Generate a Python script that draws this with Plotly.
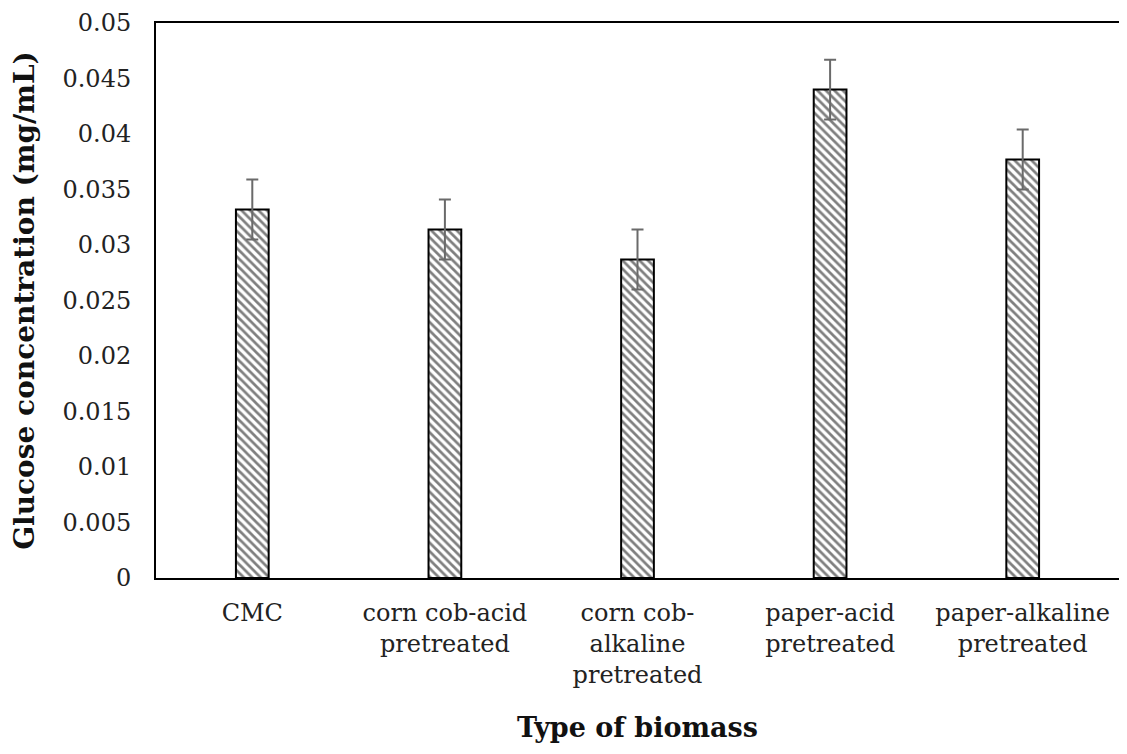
import plotly.graph_objects as go

categories = ["CMC", "corn cob-acid<br>pretreated", "corn cob-<br>alkaline<br>pretreated",
              "paper-acid<br>pretreated", "paper-alkaline<br>pretreated"]
glucose = [0.0332, 0.0314, 0.0287, 0.0440, 0.0377]
errors = [0.0027, 0.0027, 0.0027, 0.0027, 0.0027]
y_ticks = [0, 0.005, 0.01, 0.015, 0.02, 0.025, 0.03, 0.035, 0.04, 0.045, 0.05]
y_tick_labels = ["0", "0.005", "0.01", "0.015", "0.02", "0.025", "0.03", "0.035", "0.04", "0.045", "0.05"]
x_title = "Type of biomass"
y_title = "Glucose concentration (mg/mL)"

font_family = "DejaVu Serif"

fig = go.Figure(go.Bar(
    x=categories, y=glucose,
    width=0.17,
    marker=dict(color="white", line=dict(color="black", width=2),
                pattern=dict(shape="\\", fgcolor="black", bgcolor="white", size=6, solidity=0.45)),
    error_y=dict(type="data", array=errors, visible=True, color="#6a6a6a", thickness=2, width=6),
))

# page body has an 8px margin, so the figure is 16px smaller than the window
fig.update_layout(
    width=1111, height=738,
    margin=dict(l=148, r=0, t=15, b=168),
    paper_bgcolor="white", plot_bgcolor="white",
    font=dict(family=font_family, size=24, color="#222"),
    showlegend=False,
    annotations=[dict(text="<b>" + x_title + "</b>", xref="paper", yref="paper", x=0.5, y=0,
                      xanchor="center", yanchor="middle", yshift=-149, showarrow=False,
                      font=dict(family=font_family, size=27, color="#111"))],
)
fig.update_xaxes(
    showline=True, linecolor="black", linewidth=2, mirror=True, automargin=False,
    ticks="", showgrid=False, ticklabelstandoff=12, ticklabeloverflow="allow",
    tickfont=dict(family=font_family, size=24, color="#222"),
)
fig.update_yaxes(
    range=[0, 0.05], tickvals=y_ticks, ticktext=y_tick_labels,
    showline=True, linecolor="black", linewidth=2, mirror=True, automargin=False,
    ticks="", showgrid=False, zeroline=False, ticklabelstandoff=18, ticklabeloverflow="allow",
    tickfont=dict(family=font_family, size=24, color="#222"),
    title=dict(text="<b>" + y_title + "</b>", font=dict(family=font_family, size=28, color="#111"), standoff=21),
)

fig.write_html("out.html")
